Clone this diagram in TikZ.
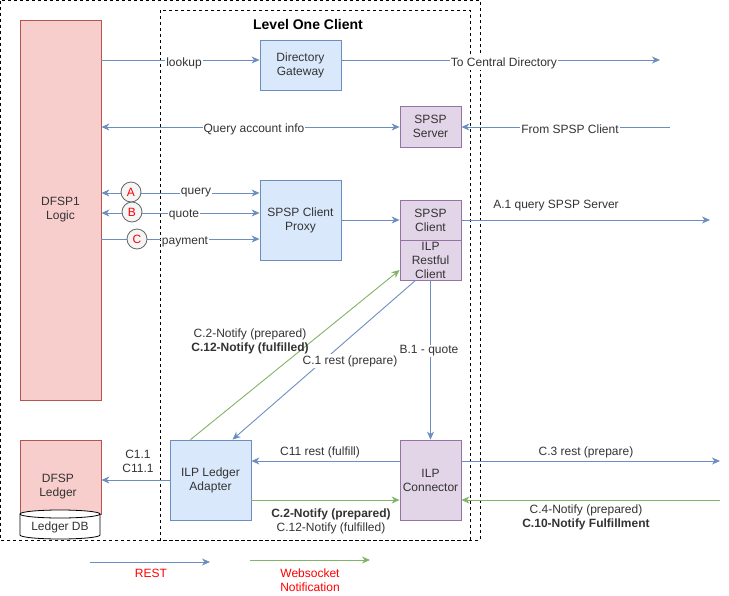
\documentclass[tikz,border=0pt]{standalone}
\usepackage{fontspec}
\setmainfont{Liberation Sans}
\usetikzlibrary{arrows.meta,calc}
\definecolor{bstroke}{HTML}{6C8EBF}
\definecolor{bfill}{HTML}{DAE8FC}
\definecolor{rstroke}{HTML}{B85450}
\definecolor{rfill}{HTML}{F8CECC}
\definecolor{pstroke}{HTML}{9673A6}
\definecolor{pfill}{HTML}{E1D5E7}
\definecolor{gstroke}{HTML}{82B366}
\definecolor{txt}{HTML}{333333}
\definecolor{cfill}{HTML}{F5F5F5}
\definecolor{cstroke}{HTML}{666666}
\begin{document}
\begin{tikzpicture}[x=1pt,y=-1pt,
  every node/.style={font=\fontsize{12}{14}\selectfont, text=txt, align=center, inner sep=1pt},
  bluebox/.style={draw=bstroke, fill=bfill, line width=0.8pt},
  redbox/.style={draw=rstroke, fill=rfill, line width=0.8pt},
  purplebox/.style={draw=pstroke, fill=pfill, line width=0.8pt},
  tipb/.tip={Stealth[length=8pt,width=7pt,inset=2.5pt]},
  rest/.style={draw=bstroke, line width=0.9pt, -tipb},
  restboth/.style={draw=bstroke, line width=0.9pt, tipb-tipb},
  ws/.style={draw=gstroke, line width=0.9pt, -tipb},
  lbl/.style={fill=white, inner sep=1pt},
  badge/.style={circle, draw=cstroke, fill=cfill, minimum size=20pt, inner sep=0pt, text=red, line width=0.8pt},
  dashbox/.style={draw=black, line width=0.9pt, dash pattern=on 3pt off 3pt}
]
\useasboundingbox (0,0) rectangle (729,595);

% containers
\draw[dashbox] (0.5,0.5) rectangle (480,540);
\draw[dashbox] (160,10) rectangle (470,540);
\node[font=\fontsize{14}{16}\selectfont\bfseries, text=black] (title) at (308,24) {Level One Client};

% boxes
\node[redbox, minimum width=81pt, minimum height=380pt] (dl) at (60.5,210) {DFSP1\\Logic};
\node[redbox, minimum width=81pt, minimum height=74pt, anchor=north] (ledger) at (60.5,440) {};
\node (ledgertxt) at (58,487) {DFSP\\Ledger};
\node[bluebox, minimum width=81pt, minimum height=50pt] (dg) at (300.5,65) {Directory\\Gateway};
\node[purplebox, minimum width=61pt, minimum height=41pt] (ss) at (430.5,126.5) {SPSP\\Server};
\node[bluebox, minimum width=81pt, minimum height=80pt] (proxy) at (300.5,220) {SPSP Client\\Proxy};
\node[purplebox, minimum width=61pt, minimum height=40pt] (sc) at (430.5,220) {SPSP\\Client};
\node[purplebox, minimum width=61pt, minimum height=40pt] (rc) at (430.5,260) {};
\node (rctxt) at (430.5,260.5) {ILP\\Restful\\Client};
\node[bluebox, minimum width=81pt, minimum height=80pt] (ila) at (210.5,480) {ILP Ledger\\Adapter};
\node[purplebox, minimum width=61pt, minimum height=80pt] (ic) at (430.5,480) {ILP\\Connector};

% cylinder Ledger DB
\draw[draw=black, fill=white, line width=0.8pt] (20,514) -- (20,535) arc[start angle=180, end angle=360, x radius=40pt, y radius=4pt] -- (100,514) arc[start angle=0, end angle=180, x radius=40pt, y radius=4pt] -- cycle;
\draw[draw=black, line width=0.8pt] (20,514) arc[start angle=180, end angle=360, x radius=40pt, y radius=4pt];
\node (ldb) at (60,527) {Ledger DB};

% external ends
\coordinate (cd) at (660,60);
\coordinate (fs) at (670,127);
\coordinate (a1) at (710,220);
\coordinate (c3) at (720,461);
\coordinate (c4) at (720,500);
\coordinate (lr1) at (90,562);
\coordinate (lr2) at (210,562);
\coordinate (lg1) at (250,560);
\coordinate (lg2) at (370,560);

% connectors
\draw[rest] (dl.east |- 0,60) -- (dg.west |- 0,60);
\draw[rest] (dg.east |- cd) -- (cd);
\draw[restboth] (dl.east |- 0,127) -- (ss.west |- 0,127);
\draw[rest] (fs) -- (ss.east |- fs);
\draw[restboth] (dl.east |- 0,193) -- (proxy.west |- 0,193);
\draw[restboth] (dl.east |- 0,213) -- (proxy.west |- 0,213);
\draw[rest] (dl.east |- 0,239) -- (proxy.west |- 0,239);
\draw[rest] (proxy.east |- sc.west) -- (sc.west);
\draw[rest] (sc.east) -- (a1);
\draw[rest] (rc.south) -- (ic.north);
\draw[rest] ($(rc.south)+(-15,0)$) -- ($(ila.north)+(22,0)$);
\draw[ws] ($(ila.north)+(-20,0)$) -- ($(rc.west)+(0,10)$);
\draw[rest] (ic.west |- 0,461) -- (ila.east |- 0,461);
\draw[ws] (ila.east |- 0,500) -- (ic.west |- 0,500);
\draw[rest] (ic.east |- c3) -- (c3);
\draw[ws] (c4) -- (ic.east |- c4);
\draw[rest] (ila.west) -- (ledger.east |- ila.west);
\draw[rest] (lr1) -- (lr2);
\draw[ws] (lg1) -- (lg2);

% badges
\node[badge] (ba) at (131,192) {A};
\node[badge] (bb) at (132,212) {B};
\node[badge] (bc) at (137,239) {C};

% labels
\node[lbl] (llookup) at (184,63) {lookup};
\node[lbl] (lcentral) at (504,63) {To Central Directory};
\node[lbl] (lqai) at (254,129) {Query account info};
\node[lbl] (lfrom) at (570,129) {From SPSP Client};
\node[lbl] (lquery) at (196,193) {query};
\node[lbl] (lquote) at (184,215) {quote};
\node[lbl] (lpay) at (185,242) {payment};
\node (la1) at (556,206) {A.1 query SPSP Server};
\node[lbl] (lb1) at (429,351) {B.1 - quote};
\node (lc2) at (250,341) {C.2-Notify (prepared)\\\textbf{C.12-Notify (fulfilled)}};
\node[lbl] (lc1) at (350,361) {C.1 rest (prepare)};
\node (lc11) at (320,452) {C11 rest (fulfill)};
\node (lc111) at (138,461.5) {C1.1\\C11.1};
\node (lc2b) at (331,521.5) {\textbf{C.2-Notify (prepared)}\\C.12-Notify (fulfilled)};
\node (lc3) at (586,452) {C.3 rest (prepare)};
\node (lc4) at (586,517) {C.4-Notify (prepared)\\\textbf{C.10-Notify Fulfillment}};
\node[text=red] (lrest) at (151,573) {REST};
\node[text=red] (lws) at (310,580) {Websocket\\Notification};
\end{tikzpicture}
\end{document}
